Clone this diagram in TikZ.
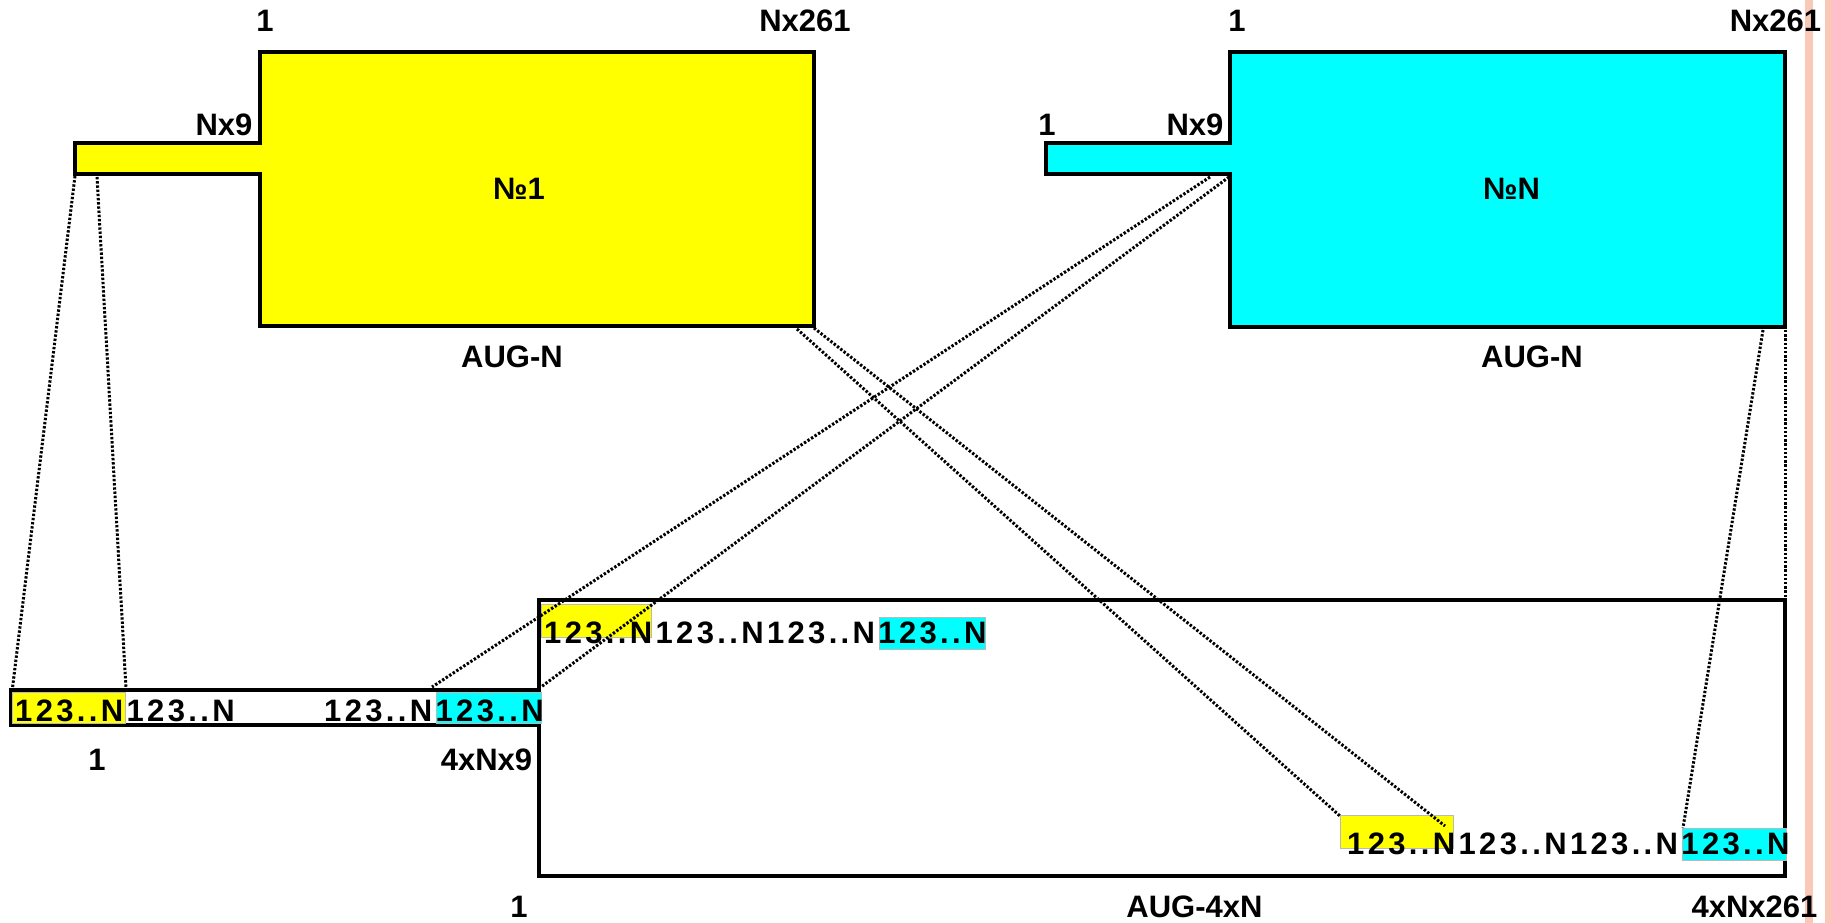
\documentclass[tikz,border=0pt]{standalone}
\usepackage{fontspec}
\setmainfont{Liberation Sans}
\newfontfamily\rowfont[LetterSpace=10.8]{Liberation Sans}
\definecolor{ylw}{RGB}{255,255,0}
\definecolor{cyn}{RGB}{0,255,255}
\definecolor{salmon}{RGB}{250,200,182}
\begin{document}
\begin{tikzpicture}[x=1pt,y=-1pt,
  blockline/.style={line width=4pt, line join=miter},
  conn/.style={line width=3pt, dash pattern=on 2.4pt off 1.8pt},
  lab/.style={inner sep=0pt, anchor=base, font=\fontsize{31}{31}\selectfont\bfseries},
  rowtext/.style={inner sep=0pt, anchor=base west, font=\rowfont\fontsize{31}{31}\selectfont\bfseries},
  cell/.style={draw=gray!55, line width=1pt}]
\useasboundingbox (0,0) rectangle (1832,923);
\fill[white] (0,0) rectangle (1832,923);
% right stripes
\fill[salmon] (1805,0) rectangle (1813,923);
\fill[salmon] (1825,0) rectangle (1832,923);

% corner coordinates
\coordinate (yStubBL) at (75,176);
\coordinate (yStubB2) at (97,177);
\coordinate (yMainBR) at (814,328);
\coordinate (yMainB2) at (797,329);
\coordinate (cStubBR1) at (1210,177);
\coordinate (cStubBR2) at (1229,177);
\coordinate (cMainBR) at (1785,330);
\coordinate (cMainB2) at (1763,330);

% AUG-N No1 (yellow)
\filldraw[fill=ylw, blockline] (75,143.5) -- (260,143.5) -- (260,51.7) -- (814,51.7) -- (814,326) -- (260,326) -- (260,174) -- (75,174) -- cycle;
% AUG-N NoN (cyan)
\filldraw[fill=cyn, blockline] (1046,143.5) -- (1230,143.5) -- (1230,51.7) -- (1785,51.7) -- (1785,326.5) -- (1230,326.5) -- (1230,174) -- (1046,174) -- cycle;
% AUG-4xN
\draw[blockline] (11,689.5) -- (539,689.5) -- (539,600) -- (1785,600) -- (1785,876) -- (539,876) -- (539,725) -- (11,725) -- cycle;

% coloured cells
\filldraw[fill=ylw, cell] (12.5,692) rectangle (125,723);
\filldraw[fill=cyn, cell] (436,692) rectangle (541,723);
\filldraw[fill=ylw, cell] (541,604) rectangle (651,637);
\filldraw[fill=cyn, cell] (879,617) rectangle (985,649);
\filldraw[fill=ylw, cell] (1340.4,815.7) rectangle (1453.4,848.3);
\filldraw[fill=cyn, cell] (1682,828.3) rectangle (1786,860);

% connector end points
\coordinate (sL) at (12.5,688);
\coordinate (sY) at (126,688);
\coordinate (sC) at (432,687);
\coordinate (sR) at (541,687);
\coordinate (bY1) at (1340,816);
\coordinate (bY2) at (1445,826);
\coordinate (bC) at (1683,828);
\coordinate (rTR) at (1785,598);

% row texts
\node[rowtext] (strip1) at (15,721.7) {123..N123..N};
\node[rowtext] (strip2) at (324,721.7) {123..N123..N};
\node[rowtext] (row1) at (544,643.3) {123..N123..N123..N123..N};
\node[rowtext] (row2) at (1347,854.3) {123..N123..N123..N123..N};

% labels
\node[lab] (y1) at (265,31.7) {1};
\node[lab] (y261) at (805,31.7) {Nx261};
\node[lab] (y9) at (224,136) {Nx9};
\node[lab] (yno) at (519,200) {№1};
\node[lab] (yaug) at (512,367) {AUG-N};
\node[lab] (c1) at (1237,31.7) {1};
\node[lab] (c261) at (1775.5,31.7) {Nx261};
\node[lab] (cs1) at (1047,136) {1};
\node[lab] (c9) at (1195,136) {Nx9};
\node[lab] (cno) at (1511.5,200) {№N};
\node[lab] (caug) at (1532,367) {AUG-N};
\node[lab] (l1) at (97,770) {1};
\node[lab] (l49) at (486.5,770) {4xNx9};
\node[lab] (b1) at (519,917) {1};
\node[lab] (baug) at (1194.5,917) {AUG-4xN};
\node[lab] (b261) at (1754.5,917) {4xNx261};

% dotted connectors
\draw[conn] (yStubBL) -- (sL);
\draw[conn] (yStubB2) -- (sY);
\draw[conn] (cStubBR1) -- (sC);
\draw[conn] (cStubBR2) -- (sR);
\draw[conn] (yMainB2) -- (bY1);
\draw[conn] (yMainBR) -- (bY2);
\draw[conn] (cMainB2) -- (bC);
\draw[conn] (cMainBR) -- (rTR);
\end{tikzpicture}
\end{document}
